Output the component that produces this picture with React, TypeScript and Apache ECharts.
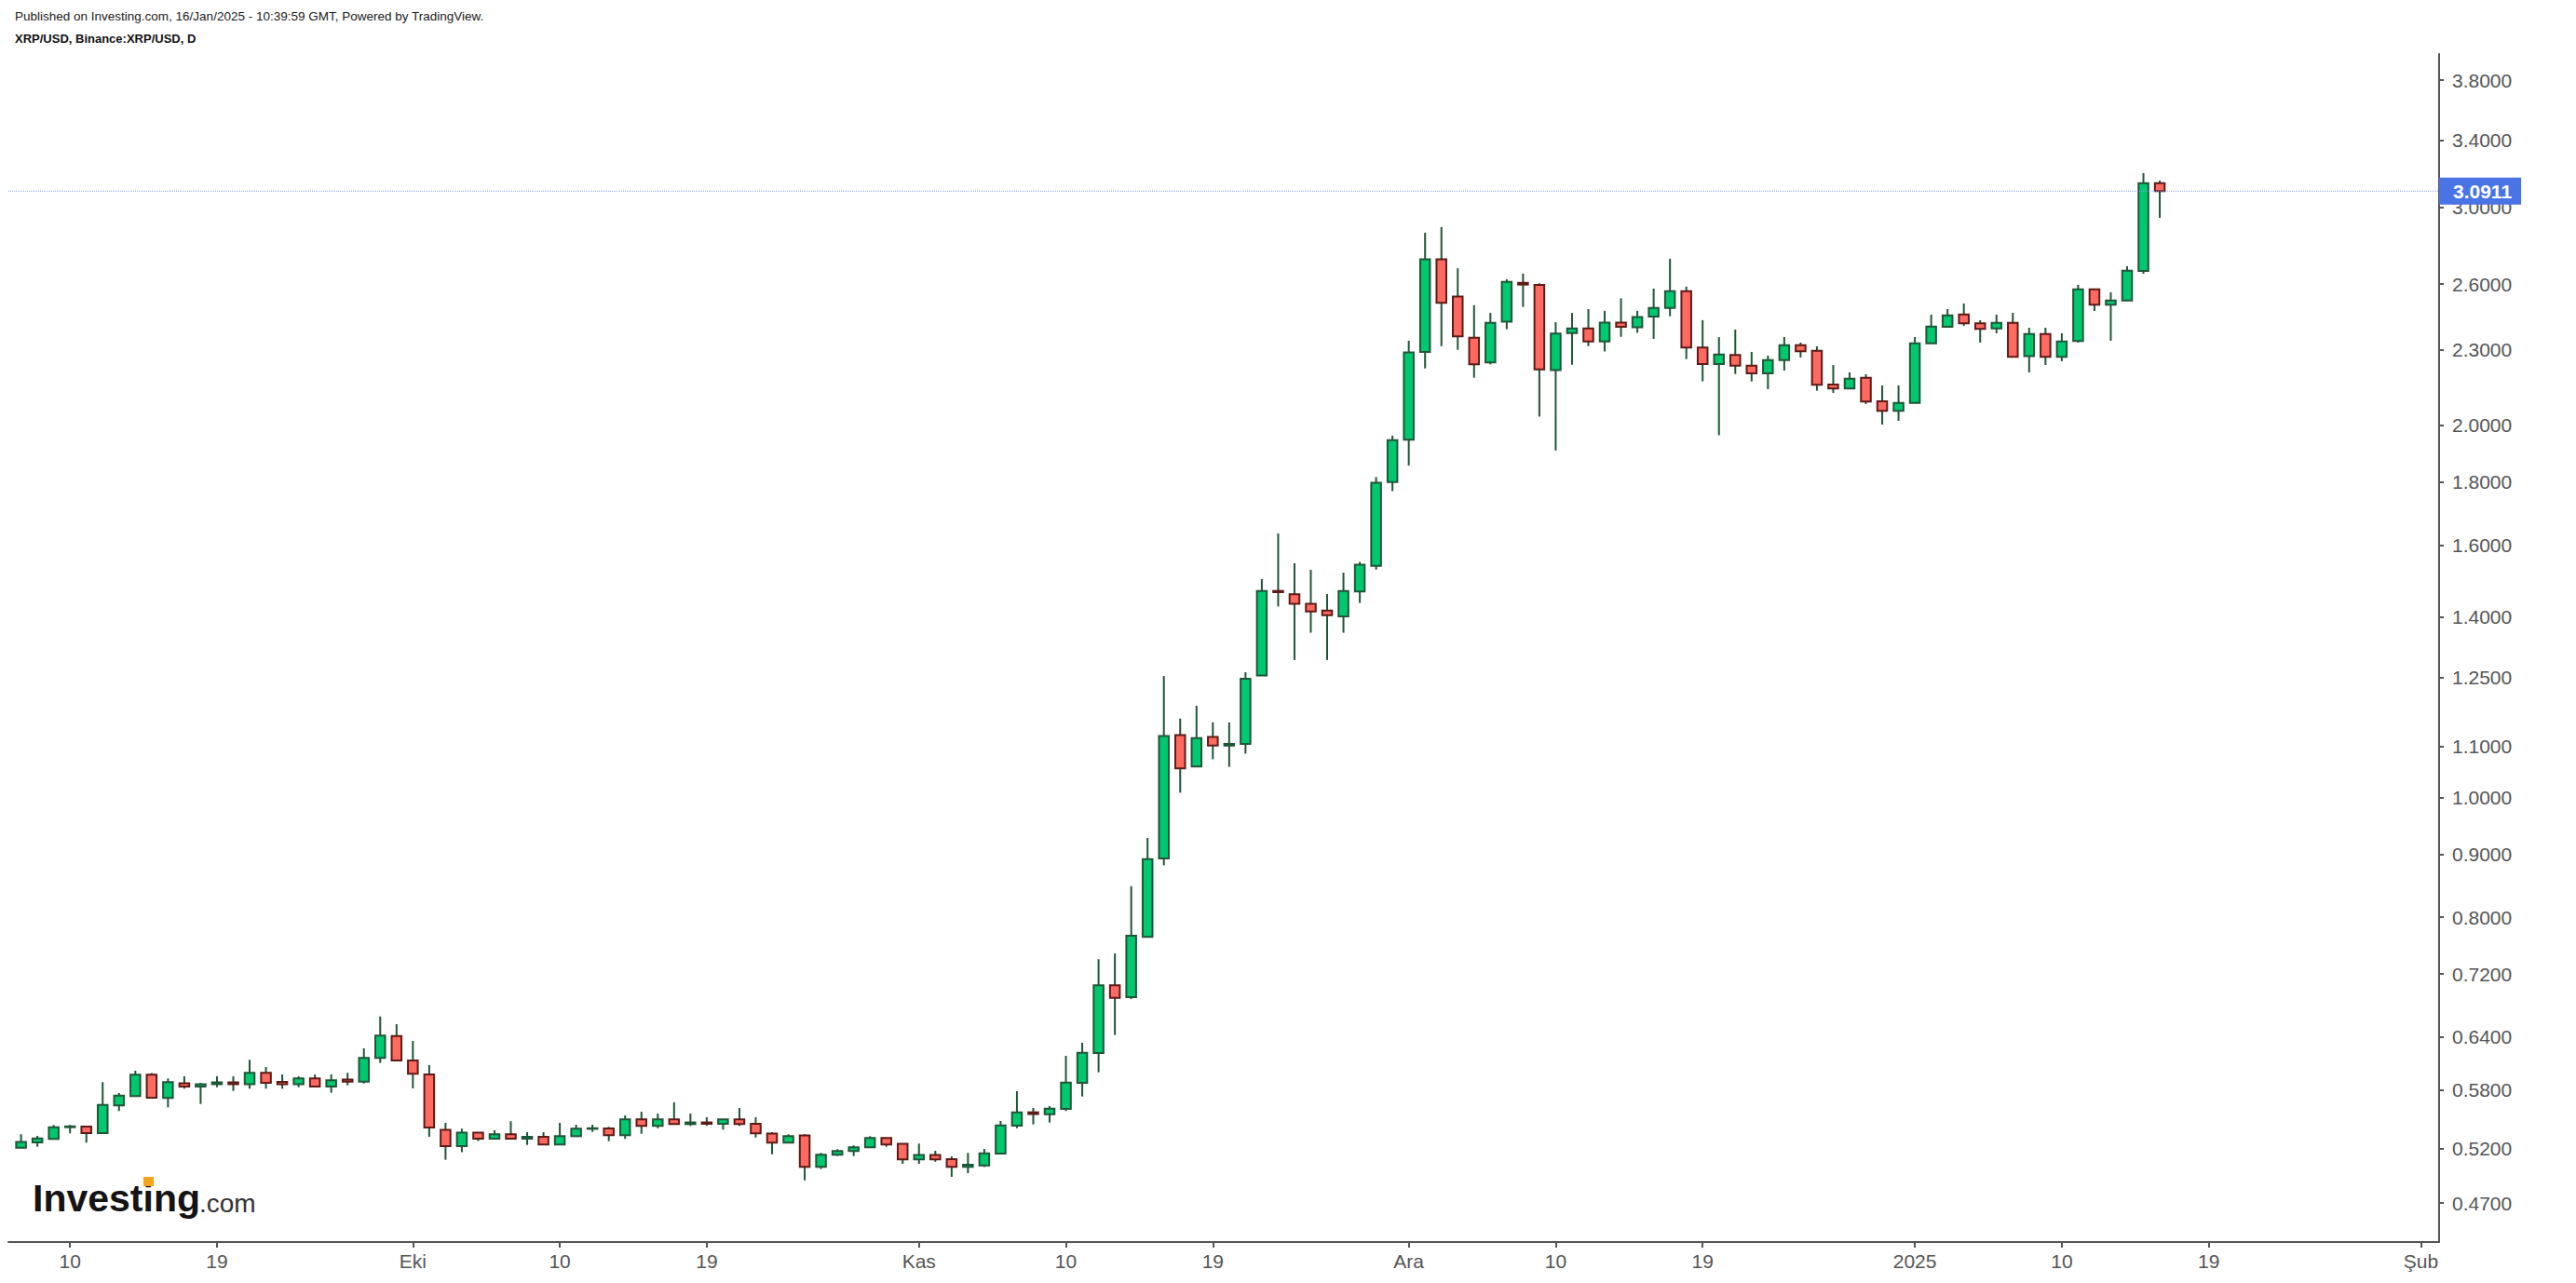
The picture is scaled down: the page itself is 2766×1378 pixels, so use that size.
import React, { useEffect, useRef } from 'react';
import * as echarts from 'echarts';

// XRP/USD daily candles, Sep 7 2024 (day index 0) to Jan 16 2025 (day index 131)
const opens = [
  0.5210, 0.5262, 0.5296, 0.5413, 0.5418, 0.5354, 0.5637, 0.5735, 0.5968, 0.5715,
  0.5874, 0.5838, 0.5864, 0.5884, 0.5864, 0.5989, 0.5889, 0.5864, 0.5927, 0.5838,
  0.5915, 0.5892, 0.6157, 0.6415, 0.6129, 0.5971, 0.5385, 0.5225, 0.5358, 0.5298,
  0.5342, 0.5298, 0.5317, 0.5241, 0.5323, 0.5398, 0.5400, 0.5332, 0.5492, 0.5426,
  0.5492, 0.5444, 0.5461, 0.5447, 0.5492, 0.5448, 0.5348, 0.5259, 0.5330, 0.5027,
  0.5142, 0.5178, 0.5214, 0.5305, 0.5248, 0.5097, 0.5140, 0.5100, 0.5027, 0.5040,
  0.5153, 0.5428, 0.5565, 0.5545, 0.5600, 0.5880, 0.6215, 0.7049, 0.6895, 0.7715,
  0.8925, 1.1230, 1.0592, 1.1190, 1.1013, 1.1048, 1.2550, 1.4687, 1.4594, 1.4338,
  1.4160, 1.4010, 1.4675, 1.5390, 1.7985, 1.9465, 2.2920, 2.7225, 2.5402, 2.3524,
  2.2472, 2.4248, 2.6060, 2.5960, 2.2150, 2.3730, 2.3935, 2.3366, 2.4206, 2.3990,
  2.4480, 2.4870, 2.5654, 2.3108, 2.2402, 2.2790, 2.2333, 2.2021, 2.2574, 2.3208,
  2.2960, 2.1570, 2.1408, 2.1840, 2.0900, 2.0536, 2.0840, 2.3289, 2.4015, 2.4570,
  2.4169, 2.3935, 2.4194, 2.2740, 2.3696, 2.2707, 2.3390, 2.5752, 2.5021, 2.5222,
  2.6650, 3.1378,
];
const highs = [
  0.5342, 0.5326, 0.5435, 0.5435, 0.5418, 0.5886, 0.5768, 0.6013, 0.5987, 0.5927,
  0.5951, 0.5879, 0.5951, 0.5951, 0.6136, 0.6055, 0.5971, 0.5951, 0.5971, 0.5971,
  0.5989, 0.6268, 0.6652, 0.6557, 0.6356, 0.6076, 0.5457, 0.5398, 0.5358, 0.5382,
  0.5474, 0.5363, 0.5363, 0.5457, 0.5438, 0.5438, 0.5416, 0.5533, 0.5571, 0.5552,
  0.5669, 0.5552, 0.5514, 0.5492, 0.5610, 0.5514, 0.5363, 0.5342, 0.5342, 0.5160,
  0.5196, 0.5232, 0.5323, 0.5305, 0.5248, 0.5250, 0.5180, 0.5127, 0.5160, 0.5198,
  0.5476, 0.5788, 0.5610, 0.5630, 0.6182, 0.6334, 0.7400, 0.7479, 0.8477, 0.9274,
  1.2535, 1.1581, 1.1861, 1.1499, 1.1499, 1.2625, 1.5014, 1.6345, 1.5463, 1.5276,
  1.4604, 1.5197, 1.5500, 1.8152, 1.9610, 2.3394, 2.8609, 2.8913, 2.6776, 2.4995,
  2.4642, 2.6234, 2.6513, 2.6040, 2.4219, 2.4642, 2.4814, 2.4736, 2.5323, 2.4736,
  2.5783, 2.7258, 2.5877, 2.4311, 2.3557, 2.3889, 2.2917, 2.2758, 2.3561, 2.3317,
  2.3156, 2.2367, 2.2059, 2.1983, 2.1531, 2.1531, 2.3561, 2.4561, 2.4818, 2.5077,
  2.4307, 2.4561, 2.4647, 2.3972, 2.3972, 2.3725, 2.5963, 2.5760, 2.5605, 2.6878,
  3.1965, 3.1525,
];
const lows = [
  0.5210, 0.5219, 0.5296, 0.5351, 0.5259, 0.5354, 0.5578, 0.5735, 0.5708, 0.5617,
  0.5815, 0.5652, 0.5831, 0.5791, 0.5815, 0.5815, 0.5815, 0.5831, 0.5833, 0.5771,
  0.5852, 0.5872, 0.6100, 0.6126, 0.5818, 0.5317, 0.5094, 0.5167, 0.5275, 0.5298,
  0.5294, 0.5237, 0.5240, 0.5240, 0.5314, 0.5366, 0.5274, 0.5296, 0.5347, 0.5403,
  0.5443, 0.5426, 0.5426, 0.5388, 0.5426, 0.5310, 0.5147, 0.5259, 0.4903, 0.5007,
  0.5131, 0.5130, 0.5213, 0.5219, 0.5056, 0.5056, 0.5076, 0.4935, 0.4969, 0.5026,
  0.5148, 0.5403, 0.5441, 0.5460, 0.5578, 0.5731, 0.5995, 0.6426, 0.6871, 0.7704,
  0.8813, 1.0089, 1.0588, 1.0736, 1.0585, 1.0850, 1.2540, 1.4268, 1.2914, 1.3588,
  1.2914, 1.3588, 1.4363, 1.5282, 1.7686, 1.8549, 2.2224, 2.3164, 2.3008, 2.1843,
  2.2391, 2.3906, 2.4921, 2.0316, 1.9074, 2.2375, 2.3164, 2.2936, 2.3569, 2.3745,
  2.3483, 2.4493, 2.2613, 2.1695, 1.9624, 2.1994, 2.1692, 2.1382, 2.2136, 2.2680,
  2.1319, 2.1234, 2.1400, 2.0797, 2.0019, 2.0158, 2.0830, 2.3280, 2.4000, 2.4056,
  2.3317, 2.3725, 2.2700, 2.2059, 2.2367, 2.2523, 2.3317, 2.4732, 2.3398, 2.5200,
  2.6508, 2.9413,
];
const closes = [
  0.5265, 0.5301, 0.5413, 0.5421, 0.5354, 0.5642, 0.5741, 0.5968, 0.5718, 0.5886,
  0.5838, 0.5864, 0.5884, 0.5864, 0.5989, 0.5879, 0.5864, 0.5927, 0.5838, 0.5907,
  0.5892, 0.6157, 0.6419, 0.6129, 0.5979, 0.5410, 0.5225, 0.5358, 0.5298, 0.5342,
  0.5298, 0.5317, 0.5241, 0.5323, 0.5398, 0.5402, 0.5332, 0.5492, 0.5426, 0.5492,
  0.5444, 0.5461, 0.5447, 0.5492, 0.5444, 0.5351, 0.5259, 0.5323, 0.5027, 0.5142,
  0.5178, 0.5214, 0.5305, 0.5241, 0.5097, 0.5140, 0.5097, 0.5027, 0.5047, 0.5156,
  0.5431, 0.5565, 0.5547, 0.5603, 0.5882, 0.6217, 0.7049, 0.6887, 0.7732, 0.8913,
  1.1210, 1.0555, 1.1169, 1.1013, 1.1048, 1.2473, 1.4687, 1.4654, 1.4338, 1.4138,
  1.4038, 1.4687, 1.5425, 1.7961, 1.9441, 2.2893, 2.7225, 2.5105, 2.3585, 2.2391,
  2.4190, 2.6102, 2.5976, 2.2182, 2.3716, 2.3935, 2.3366, 2.4206, 2.4010, 2.4459,
  2.4874, 2.5654, 2.3108, 2.2402, 2.2810, 2.2333, 2.2021, 2.2574, 2.3208, 2.2944,
  2.1557, 2.1408, 2.1805, 2.0894, 2.0536, 2.0844, 2.3289, 2.4027, 2.4532, 2.4169,
  2.3918, 2.4194, 2.2707, 2.3696, 2.2707, 2.3370, 2.5752, 2.5021, 2.5222, 2.6660,
  3.1378, 3.0911,
];

const lastPrice = 3.0911;
const yTickValues = [3.8, 3.4, 3.0, 2.6, 2.3, 2.0, 1.8, 1.6, 1.4, 1.25, 1.1, 1.0, 0.9, 0.8, 0.72, 0.64, 0.58, 0.52, 0.47];
// day indices counted from Sep 7 2024
const xTickDays = [3, 12, 24, 33, 42, 55, 64, 73, 85, 94, 103, 116, 125, 134, 147];
const xTickLabels = ['10', '19', 'Eki', '10', '19', 'Kas', '10', '19', 'Ara', '10', '19', '2025', '10', '19', 'Şub'];

const yMin = 0.4371;
const yMax = 3.99;
const xMin = -0.776;
const xMax = 148.11;

const FONT = '"Liberation Sans", Arial, Helvetica, sans-serif';
const UP_FILL = '#00c86f';
const DOWN_FILL = '#ff6a60';
const UP_LINE = '#1f5638';
const DOWN_LINE = '#5e1a16';
const AXIS = '#555555';

export default function App() {
  const ref = useRef<HTMLDivElement>(null);

  useEffect(() => {
    if (!ref.current) return;
    const chart = echarts.init(ref.current, null, { renderer: 'svg' });
    const data = opens.map((o, i) => [i, o, closes[i], lows[i], highs[i]]);
    const yTickLog = yTickValues.map((v) => Math.log(v));

    const renderItem = (params: any, api: any) => {
      const x = api.value(0);
      const o = api.value(1);
      const c = api.value(2);
      const l = api.value(3);
      const h = api.value(4);
      const pO = api.coord([x, o]);
      const pC = api.coord([x, c]);
      const pH = api.coord([x, h]);
      const pL = api.coord([x, l]);
      const band = api.coord([x + 0.5, c])[0] - api.coord([x - 0.5, c])[0];
      const w = band * 0.6;
      const up = c >= o;
      const top = Math.min(pO[1], pC[1]);
      const bh = Math.max(Math.abs(pO[1] - pC[1]), 0.6);
      return {
        type: 'group',
        children: [
          {
            type: 'line',
            shape: { x1: pH[0], y1: pH[1], x2: pL[0], y2: pL[1] },
            style: { stroke: UP_LINE, lineWidth: 2 },
          },
          {
            type: 'rect',
            shape: { x: pO[0] - w / 2, y: top, width: w, height: bh },
            style: {
              fill: up ? UP_FILL : DOWN_FILL,
              stroke: up ? UP_LINE : DOWN_LINE,
              lineWidth: 2,
            },
          },
        ],
      };
    };

    const option: any = {
      animation: false,
      backgroundColor: '#ffffff',
      grid: { left: 9, right: 147, top: 58, bottom: 44, containLabel: false, outerBoundsMode: 'none' },
      xAxis: {
        type: 'value',
        min: xMin,
        max: xMax,
        position: 'bottom',
        axisLine: { show: true, onZero: false, lineStyle: { color: AXIS, width: 2 } },
        axisTick: { show: true, length: 6, customValues: xTickDays, lineStyle: { color: AXIS, width: 2 } },
        axisLabel: {
          customValues: xTickDays,
          formatter: (v: number) => {
            const k = xTickDays.indexOf(Math.round(v));
            return k >= 0 ? xTickLabels[k] : '';
          },
          fontSize: 21,
          color: AXIS,
          fontFamily: FONT,
          margin: 10,
        },
        splitLine: { show: false },
      },
      yAxis: [
        {
          type: 'log',
          logBase: 10,
          min: yMin,
          max: yMax,
          position: 'right',
          show: false,
          splitLine: { show: false },
        },
        {
          type: 'value',
          min: Math.log(yMin),
          max: Math.log(yMax),
          position: 'right',
          axisLine: { show: true, onZero: false, lineStyle: { color: AXIS, width: 2 } },
          axisTick: { show: true, length: 5, customValues: yTickLog, lineStyle: { color: AXIS, width: 2 } },
          axisLabel: {
            customValues: yTickLog,
            formatter: (v: number) => Math.exp(v).toFixed(4),
            fontSize: 21,
            color: AXIS,
            fontFamily: FONT,
            margin: 14,
          },
          splitLine: { show: false },
        },
      ],
      series: [
        {
          type: 'custom',
          name: 'XRP/USD',
          renderItem,
          data,
          encode: { x: 0, y: [1, 2, 3, 4] },
          xAxisIndex: 0,
          yAxisIndex: 0,
          clip: true,
          z: 2,
        },
        {
          type: 'line',
          name: 'Last',
          xAxisIndex: 0,
          yAxisIndex: 0,
          data: [[xMin, lastPrice], [xMax, lastPrice]],
          showSymbol: false,
          symbol: 'none',
          silent: true,
          lineStyle: { color: '#8aa2ee', width: 1, type: 'dotted' },
          z: 3,
          endLabel: {
            show: true,
            formatter: () => lastPrice.toFixed(4),
            color: '#ffffff',
            backgroundColor: '#4a74e6',
            fontSize: 21,
            fontWeight: 'bold',
            fontFamily: FONT,
            padding: [4, 10, 4, 15],
            distance: 0,
          },
        },
      ],
      graphic: [
        {
          type: 'text',
          x: 16,
          y: 17,
          style: {
            text: 'Published on Investing.com, 16/Jan/2025 - 10:39:59 GMT, Powered by TradingView.',
            font: '13.5px ' + FONT,
            fill: '#1a1a1a',
            verticalAlign: 'middle',
          },
        },
        {
          type: 'text',
          x: 16,
          y: 41,
          style: {
            text: 'XRP/USD, Binance:XRP/USD, D',
            font: 'bold 13px ' + FONT,
            fill: '#111111',
            verticalAlign: 'middle',
          },
        },
        {
          type: 'text',
          x: 35,
          y: 1287,
          style: {
            text: 'Investing',
            font: 'bold 41px ' + FONT,
            fill: '#141414',
            verticalAlign: 'middle',
          },
        },
        {
          type: 'rect',
          shape: { x: 154, y: 1264, width: 11, height: 10 },
          style: { fill: '#f7a21b' },
        },
        {
          type: 'text',
          x: 214,
          y: 1292,
          style: {
            text: '.com',
            font: '28px ' + FONT,
            fill: '#333333',
            verticalAlign: 'middle',
          },
        },
      ],
    };

    chart.setOption(option);
    return () => chart.dispose();
  }, []);

  return (
    <div
      ref={ref}
      style={{ position: 'fixed', left: 0, top: 0, width: '2766px', height: '1378px', background: '#fff' }}
    />
  );
}
